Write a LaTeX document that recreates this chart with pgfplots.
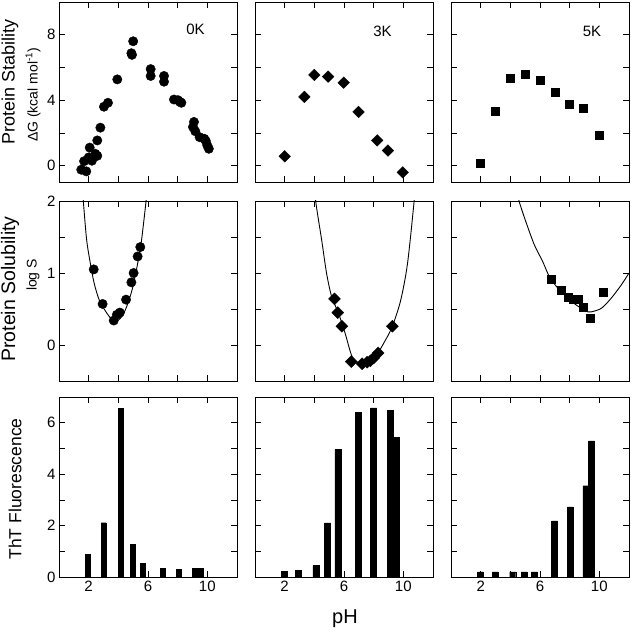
\documentclass[border=0pt]{standalone}
\usepackage{fontspec}
\setmainfont{Liberation Sans}
\usepackage{pgfplots}
\pgfplotsset{compat=1.18}
\pgfplotsset{
  panel/.style={
    scale only axis, width=178pt, height=180pt, anchor=south west,
    xmin=0, xmax=12, xtick={2,6,10}, minor xtick={4,8},
    xtick pos=both, ytick pos=both, tick align=inside,
    major tick length=6pt, minor tick length=6pt,
    every tick/.style={black, line width=0.7pt},
    axis line style={line width=0.8pt},
    xticklabels={}, yticklabels={},
    /pgf/number format/assume math mode=true,
    tick label style={font=\fontsize{15}{17}\selectfont},
  },
  row1/.style={ymin=-1, ymax=10, ytick={0,4,8}, minor ytick={2,6}},
  row2/.style={ymin=-0.5, ymax=2, ytick={0,1,2}, minor ytick={0.5,1.5}},
  row3/.style={ymin=0, ymax=7, ytick={0,2,4,6}, minor ytick={1,3,5}},
  bottom/.style={xticklabels={2,6,10}},
}
\newcommand{\lab}{\fontsize{15}{17}\selectfont}
\begin{document}
\begin{tikzpicture}
\useasboundingbox (0,0) rectangle (632pt,639pt);
% ---------- Row 1 ----------
\begin{axis}[panel,row1,at={(59pt,457pt)}, yticklabels={0,4,8}]
\addplot[only marks, mark=*, mark size=4.7pt, black] coordinates {
(1.5,-0.25)(1.84,-0.35)(1.69,0.27)(2.0,0.5)(2.07,1.1)(2.22,0.3)(2.45,0.72)(2.58,0.6)
(2.58,1.54)(2.79,2.32)(3.03,3.6)(3.3,3.84)(3.93,5.27)(4.88,6.87)(4.92,6.77)(5.0,7.6)
(6.18,5.9)(6.18,5.48)(7.08,5.48)(7.08,5.13)(7.75,4.04)(8.02,4.0)(8.15,3.9)(8.25,3.84)
(9.1,2.67)(9.03,2.36)(9.19,2.1)(9.48,1.74)(9.8,1.64)(9.9,1.5)(10.0,1.23)(10.1,1.03)};
\node[font=\lab] at (axis cs:9.2,8.3) {0K};
\end{axis}
\begin{axis}[panel,row1,at={(255pt,457pt)}]
\addplot[only marks, mark=square*, mark size=4.1pt, mark options={rotate=45}, black] coordinates {
(2.0,0.57)(3.33,4.2)(4.0,5.54)(4.93,5.44)(5.98,5.07)(6.98,3.28)(8.24,1.54)(8.96,0.92)(9.96,-0.41)};
\node[font=\lab] at (axis cs:8.6,8.2) {3K};
\end{axis}
\begin{axis}[panel,row1,at={(451pt,457pt)}]
\addplot[only marks, mark=square*, mark size=4pt, black] coordinates {
(2.0,0.16)(3.01,3.32)(4.0,5.37)(5.0,5.58)(6.0,5.23)(7.0,4.47)(8.0,3.73)(8.9,3.49)(10.0,1.89)};
\node[font=\lab] at (axis cs:9.5,8.2) {5K};
\end{axis}
% ---------- Row 2 ----------
\begin{axis}[panel,row2,at={(59pt,258pt)}, yticklabels={0,1,2}]
\addplot[smooth, black, line width=0.9pt] coordinates {
(1.55,2.3)(1.64,2.0)(1.87,1.45)(2.16,1.08)(2.38,0.85)(2.72,0.62)(3.17,0.46)(3.62,0.34)
(3.96,0.34)(4.29,0.41)(4.63,0.57)(4.97,0.8)(5.3,1.13)(5.53,1.4)(5.87,2.0)(5.95,2.2)};
\addplot[only marks, mark=*, mark size=4.7pt, black] coordinates {
(2.34,1.05)(2.94,0.57)(3.69,0.34)(3.9,0.42)(4.1,0.45)(4.52,0.63)(4.88,0.87)(5.03,1.0)(5.3,1.23)(5.48,1.36)};
\end{axis}
\begin{axis}[panel,row2,at={(255pt,258pt)}]
\addplot[smooth, black, line width=0.9pt] coordinates {
(4.0,2.3)(4.09,2.0)(4.5,1.45)(4.83,0.99)(5.17,0.67)(5.63,0.44)(6.08,0.16)(6.54,-0.16)
(6.99,-0.25)(7.44,-0.26)(8.12,-0.16)(8.8,0.07)(9.26,0.26)(9.82,0.62)(10.28,1.13)(10.73,2.0)(10.8,2.2)};
\addplot[only marks, mark=square*, mark size=4.2pt, mark options={rotate=45}, black] coordinates {
(5.36,0.64)(5.58,0.45)(5.86,0.26)(6.49,-0.23)(7.22,-0.26)(7.56,-0.24)(7.78,-0.22)(8.0,-0.18)(8.3,-0.11)(9.26,0.26)};
\end{axis}
\begin{axis}[panel,row2,at={(451pt,258pt)}]
\addplot[smooth, black, line width=0.9pt] coordinates {
(4.5,2.1)(4.6,1.99)(5.05,1.71)(5.62,1.39)(6.18,1.16)(6.63,0.95)(7.2,0.79)(7.88,0.65)
(8.55,0.54)(9.23,0.46)(9.46,0.46)(10.14,0.51)(10.8,0.65)(11.5,0.84)(12.0,1.0)};
\addplot[only marks, mark=square*, mark size=4pt, black] coordinates {
(6.75,0.92)(7.42,0.76)(7.88,0.66)(8.21,0.63)(8.55,0.63)(8.89,0.52)(9.39,0.37)(10.25,0.74)};
\end{axis}
% ---------- Row 3 ----------
\begin{axis}[panel,row3,bottom,at={(59pt,62pt)}, yticklabels={0,2,4,6}]
\addplot[ybar, bar width=5pt, bar shift=0pt, fill=black, draw=black] coordinates {
(1.96,0.87)(3.0,2.11)(4.17,6.56)(5.0,1.26)(5.67,0.52)(7.0,0.33)(8.1,0.29)(9.15,0.33)(9.55,0.33)};
\end{axis}
\begin{axis}[panel,row3,bottom,at={(255pt,62pt)}]
\addplot[ybar, bar width=6pt, bar shift=0pt, fill=black, draw=black] coordinates {
(1.96,0.22)(2.92,0.27)(4.1,0.44)(4.9,2.1)(5.58,4.96)(6.95,6.39)(8.0,6.58)(9.12,6.49)(9.5,5.42)};
\end{axis}
\begin{axis}[panel,row3,bottom,at={(451pt,62pt)}]
\addplot[ybar, bar width=6pt, bar shift=0pt, fill=black, draw=black] coordinates {
(2.0,0.2)(2.98,0.2)(4.16,0.2)(4.93,0.2)(5.62,0.2)(6.98,2.18)(8.04,2.73)(9.1,3.55)(9.48,5.29)};
\end{axis}
% ---------- labels ----------
\node[rotate=90, font=\fontsize{18}{20}\selectfont] at (10pt,557pt) {Protein Stability};
\node[rotate=90, font=\fontsize{14}{16}\selectfont] at (33pt,544pt) {ΔG (kcal mol\textsuperscript{-1})};
\node[rotate=90, font=\fontsize{19.5}{21}\selectfont] at (10pt,350pt) {Protein Solubility};
\node[rotate=90, font=\fontsize{14}{16}\selectfont] at (33pt,364pt) {log S};
\node[rotate=90, font=\fontsize{17.5}{19}\selectfont] at (15pt,150pt) {ThT Fluorescence};
\node[font=\fontsize{20}{22}\selectfont] at (345pt,20pt) {pH};
\end{tikzpicture}
\end{document}
